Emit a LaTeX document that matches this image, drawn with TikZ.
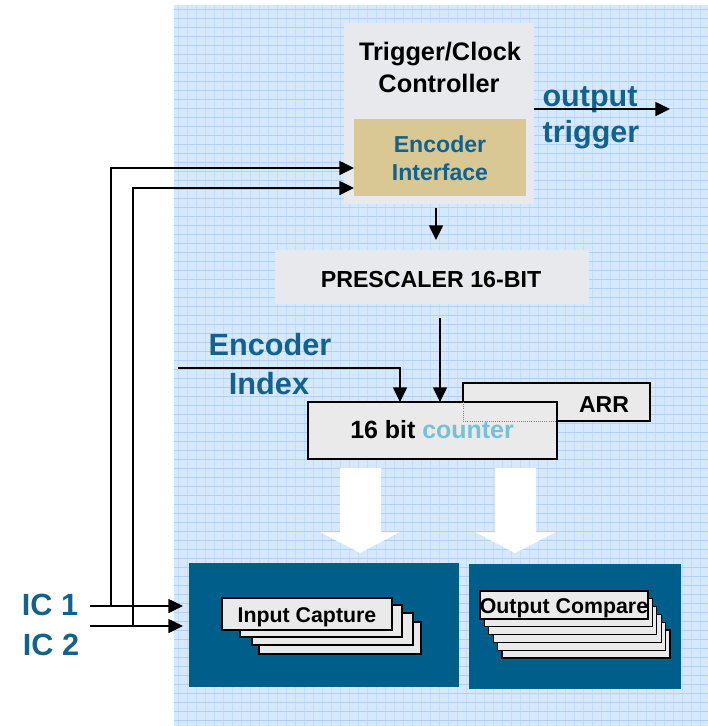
\documentclass[tikz,border=0pt]{standalone}
\usepackage{fontspec}
\setmainfont{Liberation Sans}
\usetikzlibrary{arrows.meta}
\definecolor{panelblue}{RGB}{214,232,252}
\definecolor{gridblue}{RGB}{176,208,246}
\definecolor{gridpale}{RGB}{196,221,250}
\definecolor{boxgray}{RGB}{231,233,236}
\definecolor{enctan}{RGB}{217,200,148}
\definecolor{deepblue}{RGB}{0,95,138}
\definecolor{textblue}{RGB}{18,98,140}
\definecolor{lightteal}{RGB}{118,192,216}
\definecolor{cardgray}{RGB}{234,234,234}
\tikzset{
  pxbox/.style={rectangle, inner sep=0pt, outer sep=0pt},
  wire/.style={draw=black, line width=1.1pt},
  tip/.style={-{Triangle[length=11pt,width=10.5pt]}},
  lbl/.style={anchor=base, inner sep=0pt, font=\bfseries},
  card/.style={pxbox, fill=cardgray, draw=black, line width=1pt},
}
\begin{document}
\begin{tikzpicture}[x=0.75pt,y=-0.75pt]
\useasboundingbox (0,0) rectangle (708,726);
% panel
\fill[panelblue] (174,5) rectangle (708,726);
\foreach \x in {178,187,...,708} \draw[gridpale, line width=0.5pt] (\x,5) -- (\x,726);
\foreach \y in {9,18,...,726} \draw[gridblue, line width=0.6pt] (174,\y) -- (708,\y);

% blocks
\node[pxbox, fill=boxgray, minimum width=142.5pt, minimum height=135.75pt] (ctrl) at (439,113.5) {};
\node[pxbox, fill=enctan, minimum width=129pt, minimum height=57.75pt] (enc) at (440,157.5) {};
\node[pxbox, fill=boxgray, minimum width=235.5pt, minimum height=40.5pt] (pre) at (432,277) {};
\node[pxbox, fill=cardgray, draw=black, line width=0.8pt, minimum width=140.25pt, minimum height=28.5pt] (arr) at (556.5,402) {};
\node[pxbox, fill=cardgray, draw=black, line width=0.8pt, minimum width=186.75pt, minimum height=42.75pt] (cnt) at (432.5,430.5) {};
\draw[gray, densely dotted, line width=0.6pt] (arr.west |- cnt.north) -- (arr.south west) -- (arr.south -| cnt.east);

% white arrows
\fill[white] (340,468) -- (381,468) -- (381,532) -- (400,532) -- (360,553) -- (320,532) -- (340,532) -- cycle;
\fill[white] (495,468) -- (536,468) -- (536,532) -- (556,532) -- (515,553) -- (475,532) -- (495,532) -- cycle;

% lower blocks
\node[pxbox, fill=deepblue, minimum width=202.5pt, minimum height=93pt] (icblk) at (324,625) {};
\node[pxbox, fill=deepblue, minimum width=159pt, minimum height=93.75pt] (ocblk) at (575,626.5) {};

% input capture cards
\node[card, minimum width=121.5pt, minimum height=24pt] (ic4) at (340,638) {};
\node[card, minimum width=120.75pt, minimum height=24pt] (ic3) at (332.5,629) {};
\node[card, minimum width=121.5pt, minimum height=24pt] (ic2c) at (321,621) {};
\node[card, minimum width=127.5pt, minimum height=24pt] (ic1c) at (307,614) {};

% output compare cards
\foreach \k in {5,4,3,2,1,0} {
  \node[card, minimum width=126pt, minimum height=21pt] (oc\k) at ({564+4.4*\k},{605+7.8*\k}) {};
}

% texts
\node[lbl, font=\bfseries\fontsize{19}{22}\selectfont] (t1) at (440,60) {Trigger/Clock};
\node[lbl, font=\bfseries\fontsize{19}{22}\selectfont] (t2) at (439,92) {Controller};
\node[lbl, text=textblue, font=\bfseries\fontsize{17.3}{20}\selectfont] (e1) at (440,152) {Encoder};
\node[lbl, text=textblue, font=\bfseries\fontsize{17.3}{20}\selectfont] (e2) at (440,180) {Interface};
\node[lbl, text=textblue, font=\bfseries\fontsize{22.9}{26}\selectfont] (o1) at (590,106) {output};
\node[lbl, text=textblue, font=\bfseries\fontsize{22.9}{26}\selectfont] (o2) at (591,142) {trigger};
\node[lbl, font=\bfseries\fontsize{17.4}{20}\selectfont] (pt) at (431,287) {PRESCALER 16-BIT};
\node[lbl, text=textblue, font=\bfseries\fontsize{23}{26}\selectfont] (x1) at (270,355) {Encoder};
\node[lbl, text=textblue, font=\bfseries\fontsize{23}{26}\selectfont] (x2) at (269,394) {Index};
\node[lbl, font=\bfseries\fontsize{18.7}{22}\selectfont] (ct) at (432,438) {16 bit \textcolor{lightteal}{counter}};
\node[lbl, font=\bfseries\fontsize{17.3}{20}\selectfont] (at) at (604,412) {ARR};
\node[lbl, font=\bfseries\fontsize{16}{19}\selectfont] (it) at (307,622) {Input Capture};
\node[lbl, font=\bfseries\fontsize{16}{19}\selectfont] (ot) at (564,613) {Output Compare};
\node[lbl, text=textblue, font=\bfseries\fontsize{23}{26}\selectfont] (l1) at (50,615) {IC 1};
\node[lbl, text=textblue, font=\bfseries\fontsize{23}{26}\selectfont] (l2) at (51,655) {IC 2};

% wires
\coordinate (ic1s) at (90,606);
\coordinate (ic2s) at (90,626);
\coordinate (j1) at (111,606);
\coordinate (j2) at (133,626);
\coordinate (ein1) at (354,168);
\coordinate (ein2) at (354,188);
\coordinate (eidx) at (178,368);
\coordinate (otend) at (670,109);

\draw[wire, tip, shorten >=4.5pt] (ic1s) -- (icblk.west |- ic1s);
\draw[wire, tip, shorten >=4.5pt] (ic2s) -- (icblk.west |- ic2s);
\draw[wire, tip] (j1) -- (j1 |- ein1) -- (ein1);
\draw[wire, tip] (j2) -- (j2 |- ein2) -- (ein2);
\draw[wire, tip] (ctrl.east |- otend) -- (otend);
\draw[wire, tip, shorten <=3pt, shorten >=7.5pt] (ctrl.south -| 436,0) -- (pre.north -| 436,0);
\draw[wire, tip, shorten <=10.5pt] (pre.south -| 440,0) -- (cnt.north -| 440,0);
\draw[wire, tip] (eidx) -| (cnt.north -| 400,0);
\end{tikzpicture}
\end{document}
